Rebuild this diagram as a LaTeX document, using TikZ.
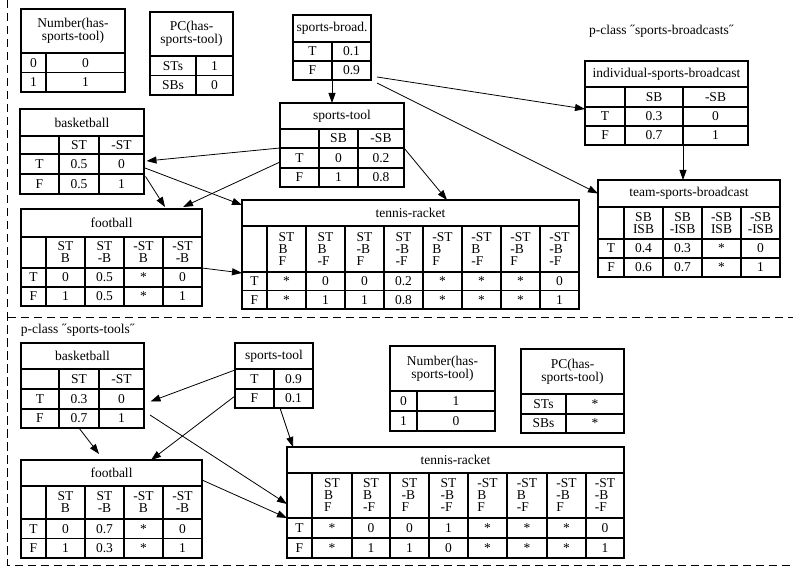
\documentclass[tikz,border=0pt]{standalone}
\usepackage{fontspec}
\setmainfont{Liberation Serif}
\usetikzlibrary{arrows.meta}
\tikzset{
  cellbox/.style={draw, line width=1.1pt, inner sep=0pt, outer sep=0pt,
    font=\fontsize{13.5}{12}\selectfont, align=center, anchor=north west},
  lcell/.style={cellbox, align=left},
  hdrbox/.style={cellbox, font=\fontsize{13.5}{13}\selectfont},
  conn/.style={line width=0.8pt, -{Triangle[length=10pt,width=7pt]}},
  frameline/.style={dash pattern=on 8.5pt off 4.5pt, line width=0.9pt},
  ptitle/.style={anchor=base west, inner sep=0pt, font=\fontsize{13.5}{13}\selectfont}
}
\newcommand\dq{\makebox[5pt][c]{˝}}
% header: name, x0, x1, y0, y1, text
\newcommand\thd[6]{\node[hdrbox, minimum width={#3-#2}, minimum height={#5-#4}] (#1) at (#2,#4) {#6};}
% row: prefix, row id, y0, y1, list x0/x1/text, style
\newcommand\trw[6]{\foreach \xa/\xb/\tx [count=\c] in {#5}{\node[#6, minimum width={\xb-\xa}, minimum height={#4-#3}] (#1-#2-\c) at (\xa,#3) {\tx};}}
\begin{document}
\begin{tikzpicture}[x=1pt,y=-1pt]
\useasboundingbox (0,0) rectangle (793,580);
% frames
\draw[frameline] (7.5,0) -- (7.5,565) -- (793,565);
\draw[frameline] (7.5,317) -- (793,317);
% titles
\node[ptitle] (t1) at (589,34.5) {p-class \dq sports-broadcasts\dq};
\node[ptitle] (t2) at (20.7,334) {p-class \dq sports-tools\dq};
% ---------- top section ----------
\thd{num1}{21}{125}{9}{53}{Number(has-\\sports-tool)}
\trw{num1}{a}{53}{72.5}{21/46/0, 46/125/0}{cellbox}
\trw{num1}{b}{72.5}{92}{21/46/1, 46/125/1}{cellbox}
\thd{pc1}{150}{233}{12}{56}{PC(has-\\sports-tool)}
\trw{pc1}{a}{56}{75.5}{150/196/STs, 196/233/1}{cellbox}
\trw{pc1}{b}{75.5}{95}{150/196/SBs, 196/233/0}{cellbox}
\thd{sb}{293}{371}{15}{42}{sports-broad.}
\trw{sb}{T}{42}{61}{293/332/T, 332/371/0.1}{cellbox}
\trw{sb}{F}{61}{80}{293/332/F, 332/371/0.9}{cellbox}
\thd{st}{280}{404}{103}{129}{sports-tool}
\trw{st}{L}{129}{148}{280/319/{}, 319/358/SB, 358/404/-SB}{cellbox}
\trw{st}{T}{148}{168}{280/319/T, 319/358/0, 358/404/0.2}{cellbox}
\trw{st}{F}{168}{187}{280/319/F, 319/358/1, 358/404/0.8}{cellbox}
\thd{isb}{585}{748}{61}{87}{individual-sports-broadcast}
\trw{isb}{L}{87}{107}{585/625/{}, 625/683/SB, 683/748/-SB}{cellbox}
\trw{isb}{T}{107}{126}{585/625/T, 625/683/0.3, 683/748/0}{cellbox}
\trw{isb}{F}{126}{145}{585/625/F, 625/683/0.7, 683/748/1}{cellbox}
\thd{tsb}{598}{780}{180}{207}{team-sports-broadcast}
\trw{tsb}{L}{207}{239}{598/624/{}, 624/663/{SB\\ISB}, 663/702/{SB\\-ISB}, 702/741/{-SB\\ISB}, 741/780/{-SB\\-ISB}}{cellbox}
\trw{tsb}{T}{239}{258}{598/624/T, 624/663/0.4, 663/702/0.3, 702/741/*, 741/780/0}{cellbox}
\trw{tsb}{F}{258}{277}{598/624/F, 624/663/0.6, 663/702/0.7, 702/741/*, 741/780/1}{cellbox}
\thd{bb}{20}{144}{109}{136}{basketball}
\trw{bb}{L}{136}{154}{20/59/{}, 59/99/ST, 99/144/-ST}{cellbox}
\trw{bb}{T}{154}{174}{20/59/T, 59/99/0.5, 99/144/0}{cellbox}
\trw{bb}{F}{174}{194}{20/59/F, 59/99/0.5, 99/144/1}{cellbox}
\thd{fb}{21}{202}{209}{237}{football}
\trw{fb}{L}{237}{268}{21/46/{}, 46/85/{ST\\B}, 85/124/{ST\\-B}, 124/163/{-ST\\B}, 163/202/{-ST\\-B}}{cellbox}
\trw{fb}{T}{268}{287}{21/46/T, 46/85/0, 85/124/0.5, 124/163/*, 163/202/0}{cellbox}
\trw{fb}{F}{287}{306}{21/46/F, 46/85/1, 85/124/0.5, 124/163/*, 163/202/1}{cellbox}
\thd{tr}{242}{579}{200}{226}{tennis-racket}
\trw{tr}{L}{226}{272}{242/267/{}, 267/306/{ST\\B\\F}, 306/345/{ST\\B\\-F}, 345/384/{ST\\-B\\F}, 384/423/{ST\\-B\\-F}, 423/462/{-ST\\B\\F}, 462/501/{-ST\\B\\-F}, 501/540/{-ST\\-B\\F}, 540/579/{-ST\\-B\\-F}}{lcell}
\trw{tr}{T}{272}{290.5}{242/267/T, 267/306/*, 306/345/0, 345/384/0, 384/423/0.2, 423/462/*, 462/501/*, 501/540/*, 540/579/0}{cellbox}
\trw{tr}{F}{290.5}{309}{242/267/F, 267/306/*, 306/345/1, 345/384/1, 384/423/0.8, 423/462/*, 462/501/*, 501/540/*, 540/579/1}{cellbox}
% ---------- bottom section ----------
\thd{bb2}{21}{144}{343}{369}{basketball}
\trw{bb2}{L}{369}{389}{21/59/{}, 59/99/ST, 99/144/-ST}{cellbox}
\trw{bb2}{T}{389}{409}{21/59/T, 59/99/0.3, 99/144/0}{cellbox}
\trw{bb2}{F}{409}{428}{21/59/F, 59/99/0.7, 99/144/1}{cellbox}
\thd{st2}{235}{313}{343}{369}{sports-tool}
\trw{st2}{T}{369}{389}{235/274/T, 274/313/0.9}{cellbox}
\trw{st2}{F}{389}{408}{235/274/F, 274/313/0.1}{cellbox}
\thd{num2}{390}{495}{346}{391}{Number(has-\\sports-tool)}
\trw{num2}{a}{391}{411}{390/417/0, 417/495/1}{cellbox}
\trw{num2}{b}{411}{431}{390/417/1, 417/495/0}{cellbox}
\thd{pc2}{521}{624}{349}{394}{PC(has-\\sports-tool)}
\trw{pc2}{a}{394}{414}{521/566/STs, 566/624/*}{cellbox}
\trw{pc2}{b}{414}{433}{521/566/SBs, 566/624/*}{cellbox}
\thd{fb2}{21}{202}{460}{486}{football}
\trw{fb2}{L}{486}{519}{21/46/{}, 46/85/{ST\\B}, 85/124/{ST\\-B}, 124/163/{-ST\\B}, 163/202/{-ST\\-B}}{cellbox}
\trw{fb2}{T}{519}{538.5}{21/46/T, 46/85/0, 85/124/0.7, 124/163/*, 163/202/0}{cellbox}
\trw{fb2}{F}{538.5}{558}{21/46/F, 46/85/1, 85/124/0.3, 124/163/*, 163/202/1}{cellbox}
\thd{tr2}{287}{624}{447}{473}{tennis-racket}
\trw{tr2}{L}{473}{518}{287/312/{}, 312/352/{ST\\B\\F}, 352/390/{ST\\B\\-F}, 390/429/{ST\\-B\\F}, 429/468/{ST\\-B\\-F}, 468/507/{-ST\\B\\F}, 507/547/{-ST\\B\\-F}, 547/586/{-ST\\-B\\F}, 586/624/{-ST\\-B\\-F}}{lcell}
\trw{tr2}{T}{518}{538}{287/312/T, 312/352/*, 352/390/0, 390/429/0, 429/468/1, 468/507/*, 507/547/*, 547/586/*, 586/624/0}{cellbox}
\trw{tr2}{F}{538}{558}{287/312/F, 312/352/*, 352/390/1, 390/429/1, 429/468/0, 468/507/*, 507/547/*, 547/586/*, 586/624/1}{cellbox}
% ---------- connectors, top ----------
\draw[conn] (sb-F-1.south east) -- (sb-F-1.south east |- st.north);
\draw[conn] ([xshift=6pt,yshift=-6.5pt]sb-F-2.east) -- ([yshift=-2pt]isb-T-1.north west);
\draw[conn] ([xshift=6pt,yshift=-12.5pt]sb-F-2.east) -- (tsb.west);
\draw[conn] (isb-F-2.south east) -- (isb-F-2.south east |- tsb.north);
\draw[conn] (st-T-1.north west) -- ([xshift=2.5pt,yshift=3pt]bb-T-3.east);
\draw[conn] ([yshift=-4pt]st-T-1.west) -- ([xshift=-19pt,yshift=2pt]fb.north east);
\draw[conn] (st-T-3.north east) -- ([xshift=36.5pt]tr.north);
\draw[conn] ([xshift=1pt,yshift=-4pt]bb-T-3.east) -- ([yshift=-5pt]tr.north west);
\draw[conn] ([xshift=1.5pt,yshift=-2.5pt]bb-F-3.north east) -- ([xshift=-37pt,yshift=2pt]fb.north east);
\draw[conn] (fb-T-5.north east) -- ([yshift=-1pt]tr-T-1.north west);
% ---------- connectors, bottom ----------
\draw[conn] ([yshift=-1pt]st2-T-1.north west) -- ([xshift=6.5pt,yshift=-2.5pt]bb2-T-3.east);
\draw[conn] ([yshift=-7pt]st2-F-1.north west) -- ([xshift=-51pt]fb2.north east);
\draw[conn] (bb2-F-2.south) -- ([xshift=-103pt,yshift=6pt]fb2.north east);
\draw[conn] ([xshift=6pt,yshift=3.5pt]bb2-F-3.east) -- ([yshift=14pt]tr2-T-1.north west);
\draw[conn] ([yshift=-7pt]fb2.east) -- (tr2-T-1.north west);
\draw[conn] ([xshift=6pt]st2-F-2.south west) -- ([xshift=6pt]tr2.north west);
\end{tikzpicture}
\end{document}
